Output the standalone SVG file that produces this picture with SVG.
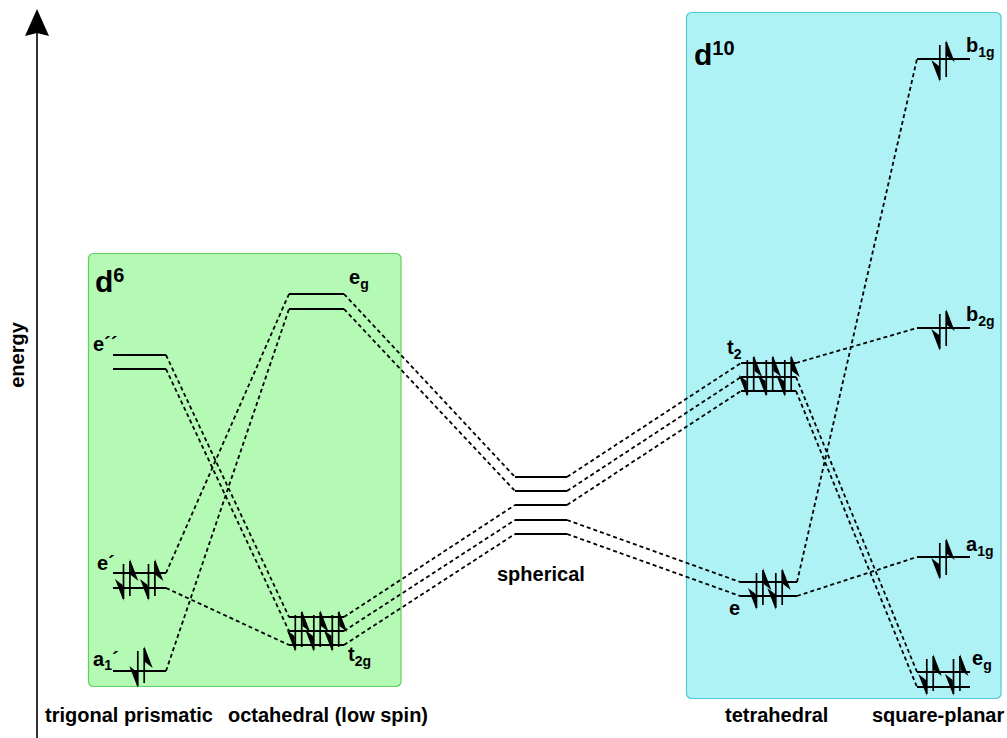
<svg xmlns="http://www.w3.org/2000/svg" xmlns:xlink="http://www.w3.org/1999/xlink" width="1007" height="738" viewBox="0 0 1007 738">
  <style>
    text { font-family: "Liberation Sans", Arial, Helvetica, sans-serif; font-weight: bold; fill: #000; }
    .lbl { font-size: 20px; }
    .sub { font-size: 14px; }
    .cap { font-size: 20px; }
    .big { font-size: 30px; }
    .sup { font-size: 20px; }
    .lvl { stroke: #000; stroke-width: 2; fill: none; }
    .dash { stroke: #000; stroke-width: 1.8; fill: none; stroke-dasharray: 4 3; }
    .shaft { stroke: #000; stroke-width: 1.7; fill: none; }
  </style>
  <defs>
    <!-- spin-up electron: shaft with half head on the right -->
    <g id="up">
      <line class="shaft" x1="0" y1="-19" x2="0" y2="16"/>
      <polygon points="0,-21 8.5,1 0.8,-5" fill="#000"/>
    </g>
    <!-- spin-down electron: shaft with half head on the left -->
    <g id="down">
      <line class="shaft" x1="0" y1="19" x2="0" y2="-16"/>
      <polygon points="0,21 -8.5,-1 -0.8,5" fill="#000"/>
    </g>
    <!-- paired electrons -->
    <g id="pair">
      <use xlink:href="#down" x="-3.2"/>
      <use xlink:href="#up" x="3.2"/>
    </g>
  </defs>

  <rect width="1007" height="738" fill="#fff"/>

  <!-- energy axis -->
  <g id="axis">
    <line x1="37" y1="30" x2="37" y2="738" stroke="#000" stroke-width="1.6"/>
    <polygon points="37,9 25,36 37,33 49,36" fill="#000"/>
    <text class="cap" transform="translate(24,355) rotate(-90)" text-anchor="middle">energy</text>
  </g>

  <!-- d6 panel -->
  <g id="panel-d6">
    <rect x="88.5" y="253.5" width="312.5" height="433" rx="5" fill="#b4f9b4" stroke="#5fcf5f" stroke-width="1.2"/>
    <text x="95" y="292" class="big">d<tspan class="sup" dy="-10">6</tspan></text>
  </g>

  <!-- d10 panel -->
  <g id="panel-d10">
    <rect x="686.5" y="12.5" width="314.5" height="686" rx="5" fill="#aef2f6" stroke="#52c7d5" stroke-width="1.2"/>
    <text x="694" y="65" class="big">d<tspan class="sup" dy="-10">10</tspan></text>
  </g>

  <!-- connectors -->
  <g id="connectors">
    <!-- trigonal prismatic to octahedral -->
    <line class="dash" x1="166" y1="355" x2="289" y2="617"/>
    <line class="dash" x1="166" y1="369" x2="289" y2="631"/>
    <line class="dash" x1="166" y1="573" x2="289" y2="294"/>
    <line class="dash" x1="166" y1="588" x2="289" y2="645"/>
    <line class="dash" x1="166" y1="671" x2="289" y2="309"/>
    <!-- octahedral to spherical -->
    <line class="dash" x1="344" y1="294" x2="515" y2="477"/>
    <line class="dash" x1="344" y1="309" x2="515" y2="491"/>
    <line class="dash" x1="344" y1="617" x2="515" y2="505"/>
    <line class="dash" x1="344" y1="631" x2="515" y2="520"/>
    <line class="dash" x1="344" y1="645" x2="515" y2="534"/>
    <!-- spherical to tetrahedral -->
    <line class="dash" x1="567" y1="477" x2="741" y2="363"/>
    <line class="dash" x1="567" y1="491" x2="741" y2="377"/>
    <line class="dash" x1="567" y1="505" x2="741" y2="391"/>
    <line class="dash" x1="567" y1="520" x2="740" y2="582"/>
    <line class="dash" x1="567" y1="534" x2="740" y2="596"/>
    <!-- tetrahedral to square-planar -->
    <line class="dash" x1="796" y1="363" x2="917" y2="328"/>
    <line class="dash" x1="796" y1="377" x2="917" y2="672"/>
    <line class="dash" x1="796" y1="391" x2="917" y2="687"/>
    <line class="dash" x1="797" y1="582" x2="917" y2="59"/>
    <line class="dash" x1="797" y1="596" x2="917" y2="557"/>
  </g>

  <!-- trigonal prismatic levels -->
  <g id="tp-e2">
    <line class="lvl" x1="113" y1="355" x2="166" y2="355"/>
    <line class="lvl" x1="113" y1="369" x2="166" y2="369"/>
    <text x="93" y="351" class="lbl">e´´</text>
  </g>
  <g id="tp-e1">
    <line class="lvl" x1="113" y1="573" x2="166" y2="573"/>
    <line class="lvl" x1="113" y1="588" x2="166" y2="588"/>
    <use xlink:href="#pair" x="126.7" y="580"/>
    <use xlink:href="#pair" x="151.7" y="580"/>
    <text x="97" y="570" class="lbl">e´</text>
  </g>
  <g id="tp-a1">
    <line class="lvl" x1="113" y1="671" x2="166" y2="671"/>
    <use xlink:href="#pair" x="141" y="667"/>
    <text x="93" y="666" class="lbl">a<tspan class="sub" dy="4">1</tspan><tspan dy="-4">´</tspan></text>
  </g>

  <!-- octahedral levels -->
  <g id="oh-eg">
    <line class="lvl" x1="289" y1="294" x2="344" y2="294"/>
    <line class="lvl" x1="289" y1="309" x2="344" y2="309"/>
    <text x="349" y="284" class="lbl">e<tspan class="sub" dy="5">g</tspan></text>
  </g>
  <g id="oh-t2g">
    <line class="lvl" x1="289" y1="617" x2="344" y2="617"/>
    <line class="lvl" x1="289" y1="631" x2="344" y2="631"/>
    <line class="lvl" x1="289" y1="645" x2="344" y2="645"/>
    <use xlink:href="#pair" x="298.5" y="631"/>
    <use xlink:href="#pair" x="317" y="631"/>
    <use xlink:href="#pair" x="335.5" y="631"/>
    <text x="348" y="661" class="lbl">t<tspan class="sub" dy="5">2g</tspan></text>
  </g>

  <!-- spherical levels -->
  <g id="sph">
    <line class="lvl" x1="515" y1="477" x2="567" y2="477"/>
    <line class="lvl" x1="515" y1="491" x2="567" y2="491"/>
    <line class="lvl" x1="515" y1="505" x2="567" y2="505"/>
    <line class="lvl" x1="515" y1="520" x2="567" y2="520"/>
    <line class="lvl" x1="515" y1="534" x2="567" y2="534"/>
  </g>

  <!-- tetrahedral levels -->
  <g id="td-t2">
    <line class="lvl" x1="741" y1="363" x2="796" y2="363"/>
    <line class="lvl" x1="741" y1="377" x2="796" y2="377"/>
    <line class="lvl" x1="741" y1="391" x2="796" y2="391"/>
    <use xlink:href="#pair" x="750.5" y="376"/>
    <use xlink:href="#pair" x="769.5" y="376"/>
    <use xlink:href="#pair" x="788" y="376"/>
    <text x="727" y="354" class="lbl">t<tspan class="sub" dy="5">2</tspan></text>
  </g>
  <g id="td-e">
    <line class="lvl" x1="740" y1="582" x2="797" y2="582"/>
    <line class="lvl" x1="740" y1="596" x2="797" y2="596"/>
    <use xlink:href="#pair" x="759.7" y="589"/>
    <use xlink:href="#pair" x="779" y="589"/>
    <text x="729" y="615" class="lbl">e</text>
  </g>

  <!-- square-planar levels -->
  <g id="sq-b1g">
    <line class="lvl" x1="917" y1="59" x2="970" y2="59"/>
    <use xlink:href="#pair" x="943" y="61"/>
    <text x="966" y="52" class="lbl">b<tspan class="sub" dy="5">1g</tspan></text>
  </g>
  <g id="sq-b2g">
    <line class="lvl" x1="917" y1="328" x2="970" y2="328"/>
    <use xlink:href="#pair" x="943" y="330"/>
    <text x="966" y="321" class="lbl">b<tspan class="sub" dy="5">2g</tspan></text>
  </g>
  <g id="sq-a1g">
    <line class="lvl" x1="917" y1="557" x2="970" y2="557"/>
    <use xlink:href="#pair" x="943" y="559"/>
    <text x="966" y="551" class="lbl">a<tspan class="sub" dy="5">1g</tspan></text>
  </g>
  <g id="sq-eg">
    <line class="lvl" x1="917" y1="672" x2="970" y2="672"/>
    <line class="lvl" x1="917" y1="687" x2="970" y2="687"/>
    <use xlink:href="#pair" x="930" y="675"/>
    <use xlink:href="#pair" x="956.7" y="675"/>
    <text x="972" y="665" class="lbl">e<tspan class="sub" dy="5">g</tspan></text>
  </g>

  <!-- captions -->
  <g id="captions">
    <text x="45" y="722" class="cap">trigonal prismatic</text>
    <text x="228" y="722" class="cap">octahedral (low spin)</text>
    <text x="497" y="581" class="cap">spherical</text>
    <text x="725" y="722" class="cap">tetrahedral</text>
    <text x="872" y="722" class="cap">square-planar</text>
  </g>
</svg>
